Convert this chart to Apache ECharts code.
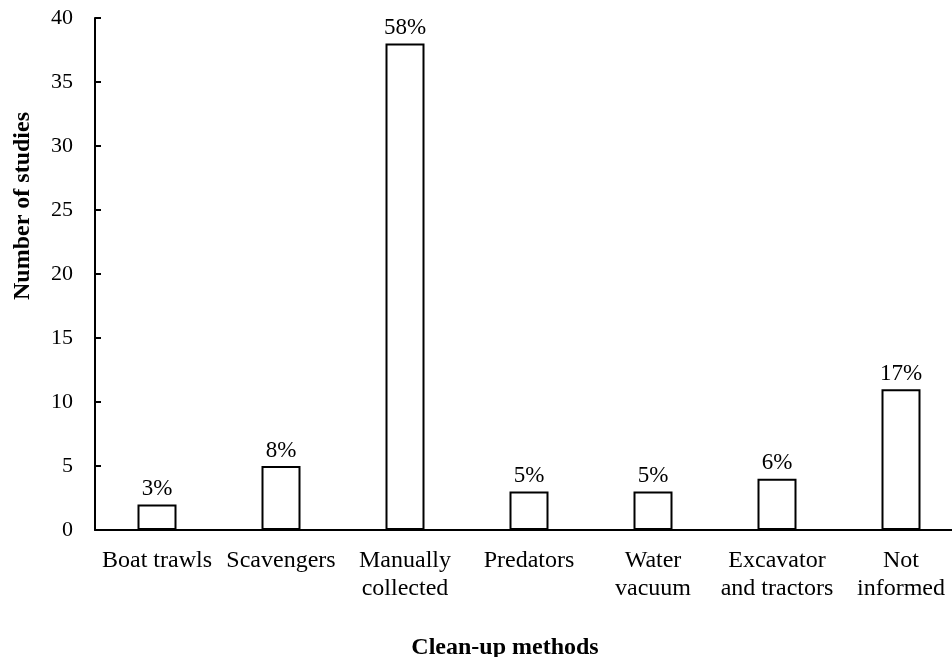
<!DOCTYPE html>
<html>
<head>
<meta charset="utf-8">
<script src="https://cdn.jsdelivr.net/npm/echarts@6/dist/echarts.min.js"></script>
<style>html,body{margin:0;padding:0;background:#fff;}#c{width:952px;height:657px;}</style>
</head>
<body>
<div id="c"></div>
<script>
const categories = ['Boat trawls', 'Scavengers', 'Manually\ncollected', 'Predators', 'Water\nvacuum', 'Excavator\nand tractors', 'Not\ninformed'];
const studies = [2, 5, 38, 3, 3, 4, 11];
const percentLabels = ['3%', '8%', '58%', '5%', '5%', '6%', '17%'];
const yTicks = [0, 5, 10, 15, 20, 25, 30, 35, 40];

const font = 'Liberation Serif';
const chart = echarts.init(document.getElementById('c'), null, {renderer: 'canvas'});
chart.setOption({
  backgroundColor: '#fff',
  animation: false,
  title: {
    text: 'Clean-up methods',
    left: 500, top: 631, textAlign: 'center',
    textStyle: {fontFamily: font, fontWeight: 'bold', fontSize: 24, color: '#000'}
  },
  graphic: [{
    type: 'text', x: 23, y: 206, rotation: Math.PI / 2,
    style: {text: 'Number of studies', font: 'bold 24px "Liberation Serif"', fill: '#000', textAlign: 'center', textVerticalAlign: 'middle'}
  }],
  grid: {left: 95, width: 868, top: 18, bottom: 127, containLabel: false, outerBoundsMode: 'none'},
  xAxis: {
    type: 'category', data: categories,
    axisLine: {lineStyle: {color: '#000', width: 2}},
    axisTick: {show: false},
    axisLabel: {color: '#000', fontFamily: font, fontSize: 24, margin: 17, lineHeight: 28, interval: 0}
  },
  yAxis: {
    type: 'value', min: yTicks[0], max: yTicks[yTicks.length - 1], interval: 5,
    axisLine: {show: true, lineStyle: {color: '#000', width: 2}},
    axisTick: {show: true, inside: true, length: 6, lineStyle: {color: '#000', width: 2}},
    splitLine: {show: false},
    axisLabel: {color: '#000', fontFamily: font, fontSize: 22, margin: 22}
  },
  series: [{
    type: 'bar', data: studies, barWidth: 39,
    itemStyle: {color: '#fff', borderColor: '#000', borderWidth: 2},
    label: {
      show: true, position: 'top', distance: 4, color: '#000', fontFamily: font, fontSize: 23,
      formatter: p => percentLabels[p.dataIndex]
    }
  }]
});
</script>
</body>
</html>
